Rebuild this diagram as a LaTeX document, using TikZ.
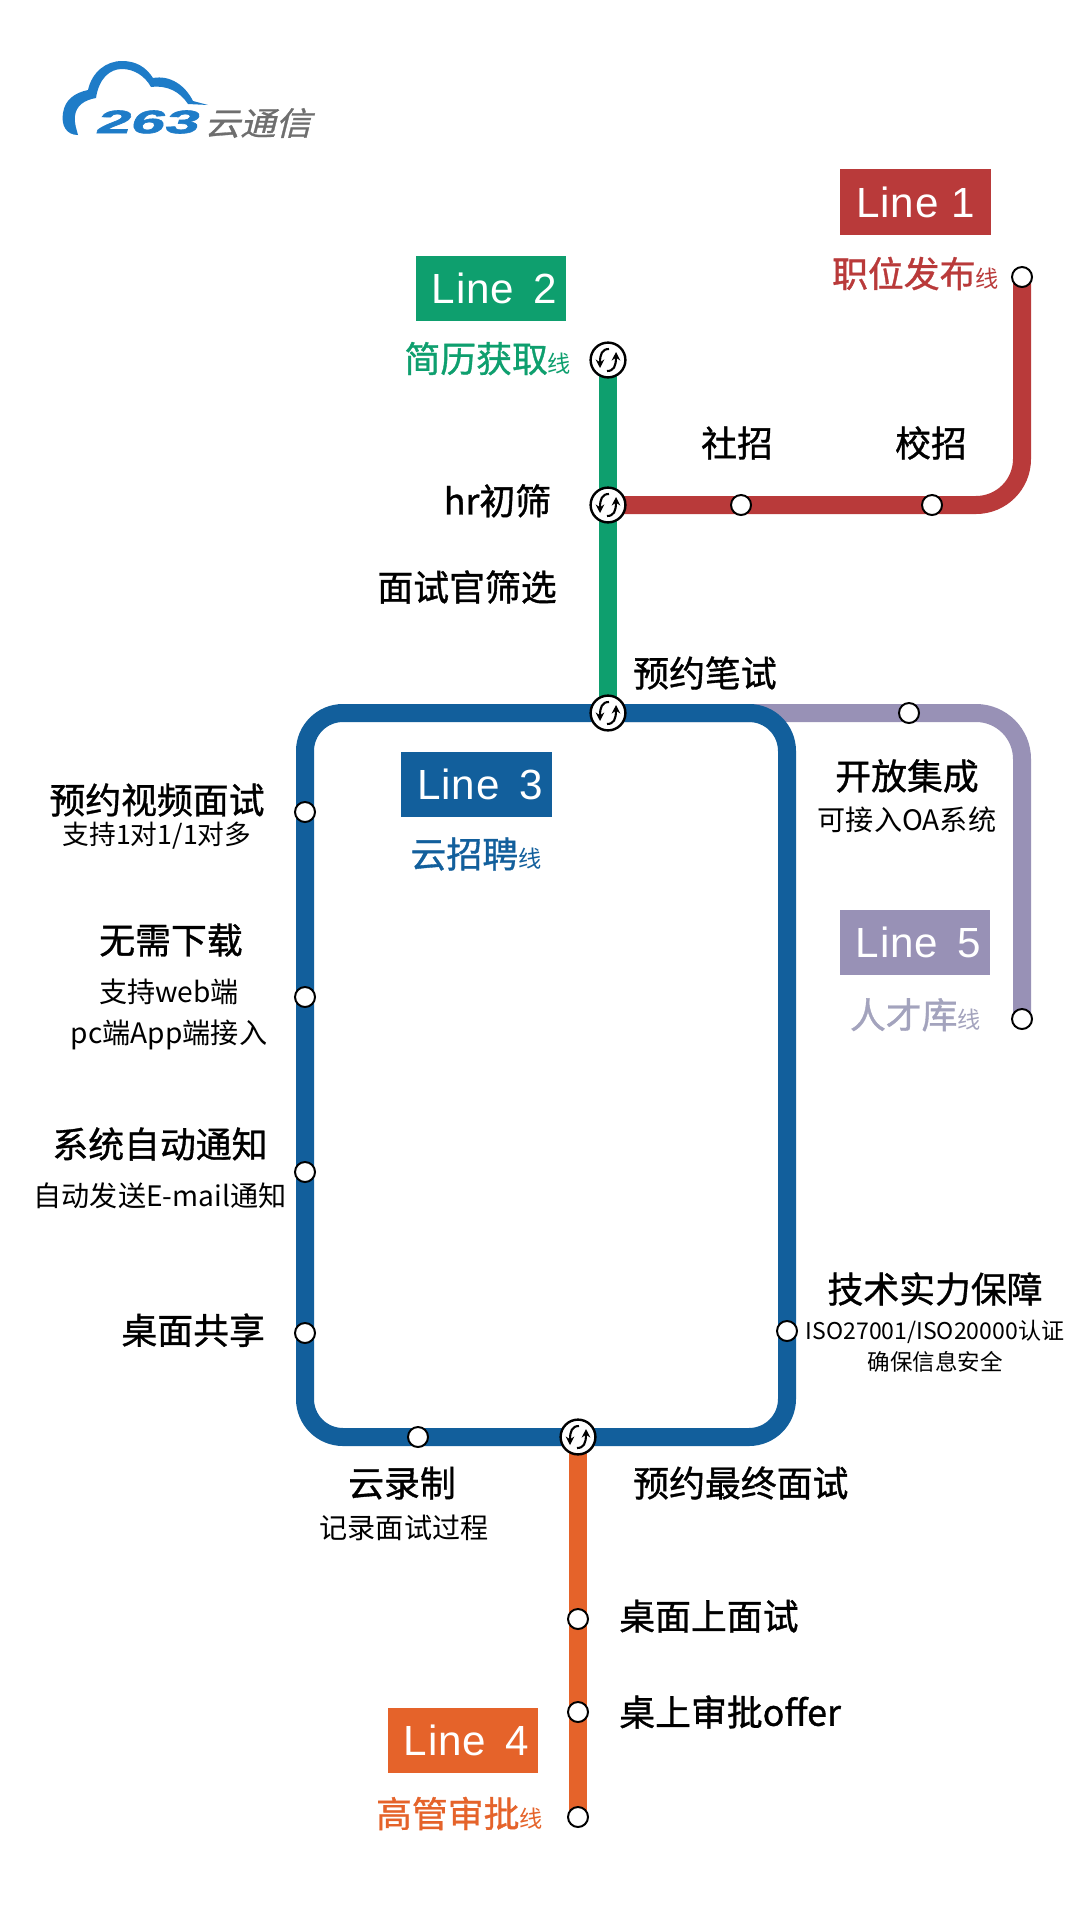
\documentclass[tikz,border=0pt]{standalone}
\usepackage{xcolor}
\usepackage{fontspec}
\setmainfont{Noto Sans CJK SC}
\newfontfamily\headfont[FakeBold=1.0]{Noto Sans CJK SC}
\newfontfamily\tagfont[LetterSpace=2]{Liberation Sans}
\newfontfamily\logofont[FakeSlant=0.3,FakeStretch=1.9,FakeBold=2]{Liberation Sans}
\newfontfamily\logocjk[FakeSlant=0.25,FakeStretch=1.1,FakeBold=0.8]{Noto Sans CJK SC}
\usetikzlibrary{arrows.meta, positioning, backgrounds}
\definecolor{mtRed}{HTML}{B93A3A}
\definecolor{mtGreen}{HTML}{0E9F6E}
\definecolor{mtBlue}{HTML}{125F9C}
\definecolor{mtOrange}{HTML}{E5632A}
\definecolor{mtPurple}{HTML}{9891B6}
\definecolor{mtGrey}{HTML}{A3A3BD}
\definecolor{logoBlue}{HTML}{1E7CC8}
\definecolor{logoGrey}{HTML}{6E6E6E}
\newcommand{\xian}{{\fontsize{16.5}{16.5}\selectfont\normalfont 线}}
\newcommand{\linetag}[1]{\hspace*{5pt}Line\,\ #1}

\begin{document}
\begin{tikzpicture}[
  x=0.025cm, y=-0.025cm,
  tag/.style={fill=#1, text=white, minimum width=3.75cm, minimum height=1.625cm,
              inner sep=0pt, font=\fontsize{30}{36}\selectfont\tagfont},
  head/.style={font=\fontsize{25.5}{30}\selectfont\headfont, inner sep=0pt},
  note/.style={font=\fontsize{#1}{22}\selectfont, inner sep=0pt},
  note/.default=20,
  title/.style={head, text=#1},
  stop/.style={circle, draw=black, fill=white, line width=1.4pt, minimum size=0.5cm, inner sep=0pt},
  rail/.style={draw=#1, line width=12.8pt},
  xchg/.style={circle, draw=black, fill=white, line width=1.7pt, minimum size=0.87cm, inner sep=0pt,
    path picture={
      \begin{scope}[shift={(path picture bounding box.center)}]
        \draw[line width=1.5pt, -{Stealth[length=6pt,width=6pt]}] (1,-11) .. controls (-6,-11) and (-8,-6) .. (-8,8);
        \draw[line width=1.5pt, -{Stealth[length=6pt,width=6pt]}] (-1,11) .. controls (6,11) and (8,6) .. (8,-8);
      \end{scope}
    }},
]
  \useasboundingbox (0,0) rectangle (1080,1920);

  % logo
  \fill[logoBlue] (78,135) .. controls (66,135) and (61,125) .. (63,113)
    .. controls (65,100) and (74,93) .. (88,90)
    .. controls (92,72) and (106,61) .. (122,61)
    .. controls (136,61) and (146,67) .. (153,78)
    .. controls (170,75) and (185,85) .. (193,101)
    -- (208,105) -- (188,104)
    .. controls (180,92) and (168,85) .. (151,87)
    .. controls (145,76) and (134,69) .. (122,69)
    .. controls (110,69) and (99,78) .. (96,98)
    .. controls (84,100) and (76,106) .. (75,116)
    .. controls (74,124) and (77,130) .. (78,135) -- cycle;
  \node[inner sep=0pt, text=logoBlue, font=\fontsize{23}{23}\selectfont\logofont\bfseries] (logoNum) at (146,122) {263};
  \node[inner sep=0pt, text=logoGrey, font=\fontsize{23}{23}\selectfont\logocjk] (logoName) at (258,123) {云通信};

  % stations
  \node[stop] (endA) at (1022,277) {};
  \node[stop] (shezhao) at (741,505) {};
  \node[stop] (xiaozhao) at (932,505) {};
  \node[xchg] (resume) at (608,360) {};
  \node[xchg] (hr) at (608,505) {};
  \node[xchg] (exam) at (608,713) {};
  \node[stop] (open) at (909,713) {};
  \node[stop] (endE) at (1022,1019) {};
  \node[stop] (video) at (305,812) {};
  \node[stop] (nodown) at (305,997) {};
  \node[stop] (notify) at (305,1172) {};
  \node[stop] (share) at (305,1333) {};
  \node[stop] (tech) at (787,1331) {};
  \node[stop] (record) at (418,1437) {};
  \node[xchg] (final) at (578,1437) {};
  \node[stop] (desk) at (578,1619) {};
  \node[stop] (approve) at (578,1712) {};
  \node[stop] (endD) at (578,1817) {};
  \coordinate (tl) at (305,713);
  \coordinate (tr) at (787,713);
  \coordinate (br) at (787,1437);
  \coordinate (bl) at (305,1437);

  % lines
  \begin{scope}[on background layer]
    \fill[white] (0,0) rectangle (1080,1920);
    \draw[rail=mtPurple, rounded corners=1.15cm] (exam.center) -- (open.center) -| (endE.center);
    \draw[rail=mtRed, rounded corners=1.15cm] (endA.center) |- (hr.center);
    \draw[rail=mtGreen] (resume.center) -- (exam.center);
    \draw[rail=mtOrange] (final.center) -- (endD.center);
    \draw[rail=mtBlue, rounded corners=0.95cm] (exam.center) -- (tr) -- (br) -- (bl) -- (tl) -- cycle;
  \end{scope}

  % line tags
  \node[tag=mtRed] (tagA) at (915.5,202) {Line 1};
  \node[tag=mtGreen] (tagB) at (491,288.5) {\linetag{2}};
  \node[tag=mtBlue] (tagC) at (476.5,784.5) {\linetag{3}};
  \node[tag=mtOrange] (tagD) at (463,1740.5) {\linetag{4}};
  \node[tag=mtPurple] (tagE) at (915,942.5) {\linetag{5}};

  \node[title=mtRed, left=0.3cm of endA, yshift=2.5pt] (nameA) {职位发布\xian};
  \node[title=mtGreen, left=0.45cm of resume, yshift=1pt] (nameB) {简历获取\xian};
  \node[title=mtBlue] (nameC) at (476,854) {云招聘\xian};
  \node[title=mtOrange, left=0.6cm of endD, yshift=2.5pt] (nameD) {高管审批\xian};
  \node[title=mtGrey, left=0.75cm of endE, yshift=3pt] (nameE) {人才库\xian};

  % stop labels
  \node[head] (lShe) at (737,443) {社招};
  \node[head] (lXiao) at (931,443) {校招};
  \node[head, left=0.95cm of hr, yshift=3pt] (lHr) {hr初筛};
  \node[head, anchor=east] (lFace) at (557,587) {面试官筛选};
  \node[head, anchor=west] (lExam) at (633,673) {预约笔试};
  \node[head] (lOpen) at (907,776) {开放集成};
  \node[note] (sOpen) at (907,820) {可接入OA系统};
  \node[head] (lVideo) at (157,800) {预约视频面试};
  \node[note=19] (sVideo) at (157,836) {支持1对1/1对多};
  \node[head] (lNoDown) at (171,940) {无需下载};
  \node[note] (sWeb) at (169,992) {支持web端};
  \node[note] (sPc) at (169,1035) {pc端App端接入};
  \node[head] (lNotify) at (160,1144) {系统自动通知};
  \node[note] (sMail) at (160,1196) {自动发送E-mail通知};
  \node[head, left=0.72cm of share, yshift=2pt] (lShare) {桌面共享};
  \node[head] (lTech) at (935,1289) {技术实力保障};
  \node[note=16.4] (sIso) at (935,1332) {ISO27001/ISO20000认证};
  \node[note=16] (sSafe) at (935,1362) {确保信息安全};
  \node[head] (lRec) at (402,1483) {云录制};
  \node[note] (sRec) at (404,1528) {记录面试过程};
  \node[head, anchor=west] (lFinal) at (633,1483) {预约最终面试};
  \node[head, right=0.75cm of desk, yshift=2pt] (lDesk) {桌面上面试};
  \node[head, right=0.75cm of approve] (lApprove) {桌上审批offer};
\end{tikzpicture}
\end{document}
